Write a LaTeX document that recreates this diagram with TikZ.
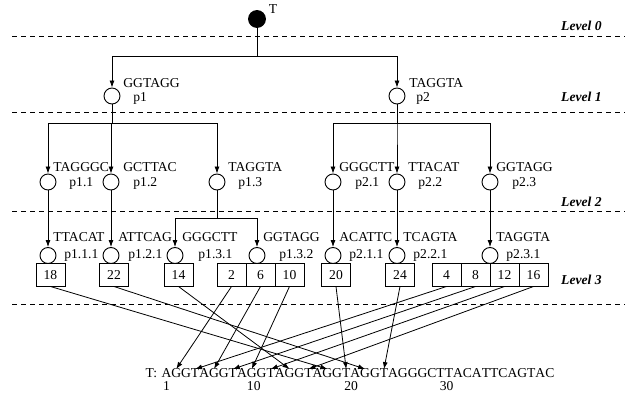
\documentclass[tikz,border=0pt]{standalone}
\usepackage{fontspec}
\setmainfont{Liberation Serif}
\usepackage{tikz}
\usetikzlibrary{arrows.meta,positioning}

\tikzset{
  rootnode/.style={circle, draw, fill=black, minimum size=17pt, inner sep=0pt},
  pnode/.style={circle, draw, line width=0.9pt, minimum size=16pt, inner sep=0pt},
  seqlbl/.style={anchor=west, inner sep=0pt},
  cell/.style={draw, line width=0.9pt, minimum width=29pt, minimum height=23pt, inner sep=0pt, outer sep=0pt},
  letter/.style={inner sep=0pt, outer sep=0pt, anchor=base west},
  poslbl/.style={inner sep=0pt, anchor=base},
  levelline/.style={line width=0.8pt, dash pattern=on 5pt off 4pt},
  levellbl/.style={anchor=east, inner sep=0pt, font=\fontsize{13.6}{16}\selectfont\bfseries\itshape},
  arr/.style={-{Latex[length=7pt,width=5pt]}},
}

\begin{document}
\begin{tikzpicture}[x=1pt, y=-1pt, line width=0.8pt, font=\fontsize{13.6}{16}\selectfont]
\useasboundingbox (0,0) rectangle (625,395);

% level separators
\draw[levelline] (12,36) -- (625,36);
\draw[levelline] (12,112) -- (625,112);
\draw[levelline] (12,211) -- (625,211);
\draw[levelline] (12,304) -- (625,304);
\node[levellbl] (lev0) at (602,26) {Level 0};
\node[levellbl] (lev1) at (602,97) {Level 1};
\node[levellbl] (lev2) at (602,202) {Level 2};
\node[levellbl] (lev3) at (602,280) {Level 3};

% level 0
\node[rootnode] (T) at (257,19) {};
\node[inner sep=0pt] (Tname) at (273,9) {T};

% level 1
\node[pnode] (p1) at (112,96) {};
\node[seqlbl] (p1seq) at (123,83) {GGTAGG};
\node[seqlbl] (p1name) at (133,98) {p1};
\node[pnode] (p2) at (397,96) {};
\node[seqlbl] (p2seq) at (409,83) {TAGGTA};
\node[seqlbl] (p2name) at (416,98) {p2};

% level 2
\node[pnode] (p11) at (48,182) {};
\node[seqlbl] (p11seq) at (53,167) {TAGGGC};
\node[seqlbl] (p11name) at (69,183) {p1.1};
\node[pnode] (p12) at (111,182) {};
\node[seqlbl] (p12seq) at (123,167) {GCTTAC};
\node[seqlbl] (p12name) at (133,183) {p1.2};
\node[pnode] (p13) at (217,182) {};
\node[seqlbl] (p13seq) at (228,167) {TAGGTA};
\node[seqlbl] (p13name) at (238,183) {p1.3};
\node[pnode] (p21) at (333,182) {};
\node[seqlbl] (p21seq) at (339,167) {GGGCTT};
\node[seqlbl] (p21name) at (355,183) {p2.1};
\node[pnode] (p22) at (397,182) {};
\node[seqlbl] (p22seq) at (408,167) {TTACAT};
\node[seqlbl] (p22name) at (418,183) {p2.2};
\node[pnode] (p23) at (490,182) {};
\node[seqlbl] (p23seq) at (496,167) {GGTAGG};
\node[seqlbl] (p23name) at (512,183) {p2.3};

% level 3
\node[pnode] (p111) at (48,255.5) {};
\node[seqlbl] (p111seq) at (53,237) {TTACAT};
\node[seqlbl] (p111name) at (64,255) {p1.1.1};
\node[pnode] (p121) at (111,255.5) {};
\node[seqlbl] (p121seq) at (118,237) {ATTCAG};
\node[seqlbl] (p121name) at (128,255) {p1.2.1};
\node[pnode] (p131) at (175,255.5) {};
\node[seqlbl] (p131seq) at (182,237) {GGGCTT};
\node[seqlbl] (p131name) at (198,255) {p1.3.1};
\node[pnode] (p132) at (257,255.5) {};
\node[seqlbl] (p132seq) at (263,237) {GGTAGG};
\node[seqlbl] (p132name) at (279,255) {p1.3.2};
\node[pnode] (p211) at (333,255.5) {};
\node[seqlbl] (p211seq) at (339,237) {ACATTC};
\node[seqlbl] (p211name) at (349,255) {p2.1.1};
\node[pnode] (p221) at (397,255.5) {};
\node[seqlbl] (p221seq) at (403,237) {TCAGTA};
\node[seqlbl] (p221name) at (413,255) {p2.2.1};
\node[pnode] (p231) at (490,255.5) {};
\node[seqlbl] (p231seq) at (496,237) {TAGGTA};
\node[seqlbl] (p231name) at (506,255) {p2.3.1};

% occurrence lists
\node[cell] (b18) at (50.5,275) {18};
\node[cell] (b22) at (114,275) {22};
\node[cell] (b14) at (178.5,275) {14};
\node[cell] (b2) at (231.5,275) {2};
\node[cell, right=0pt of b2] (b6) {6};
\node[cell, right=0pt of b6] (b10) {10};
\node[cell] (b20) at (336,275) {20};
\node[cell] (b24) at (400,275) {24};
\node[cell] (b4) at (446.5,275) {4};
\node[cell, right=0pt of b4] (b8) {8};
\node[cell, right=0pt of b8] (b12) {12};
\node[cell, right=0pt of b12] (b16) {16};

% text T
\node[letter] (s1) at (161.5,378) {A};
\foreach \l [count=\i from 2, remember=\i as \j (initially 1)] in
  {G,G,T,A,G,G,T,A,G,G,T,A,G,G,T,A,G,G,T,A,G,G,T,A,G,G,G,C,T,T,A,C,A,T,T,C,A,G,T,A,C}
  \node[letter] (s\i) at (s\j.base east) {\l};
\node[inner sep=0pt, anchor=base east] (tname) at ([xshift=-4pt]s1.base west) {T:};
\node[poslbl] (n1) at ([yshift=-13pt]s1.base) {1};
\node[poslbl] (n10) at ([xshift=2pt, yshift=-13pt]s10.base) {10};
\node[poslbl] (n20) at ([xshift=5pt, yshift=-13pt]s20.base) {20};
\node[poslbl] (n30) at ([xshift=6pt, yshift=-13pt]s30.base) {30};

% tree edges
\draw[arr] (T.south) -- ++(0,29) -| (p1.north);
\draw[arr] (T.south) -- ++(0,29) -| (p2.north);
\draw[arr] (p1.south) -- ++(0,19) -| (p11.north);
\draw[arr] (p1.south) -- ++(0,19) -| (p12.north);
\draw[arr] (p1.south) -- ++(0,19) -| (p13.north);
\draw[arr] (p2.south) -- ++(0,19) -| (p21.north);
\draw[arr] (p2.south) -- ++(0,19) -| (p22.north);
\draw[arr] (p2.south) -- ++(0,19) -| (p23.north);
\draw[arr] (p11) -- (p111);
\draw[arr] (p12) -- (p121);
\draw[arr] (p13.south) -- ++(0,28) -| (p131.north);
\draw[arr] (p13.south) -- ++(0,28) -| (p132.north);
\draw[arr] (p21) -- (p211);
\draw[arr] (p22) -- (p221);
\draw[arr] (p23) -- (p231);

% positions in T
\foreach \k in {2,4,...,24}
  \draw[arr] (b\k.south) -- (s\k.north);
\end{tikzpicture}
\end{document}
